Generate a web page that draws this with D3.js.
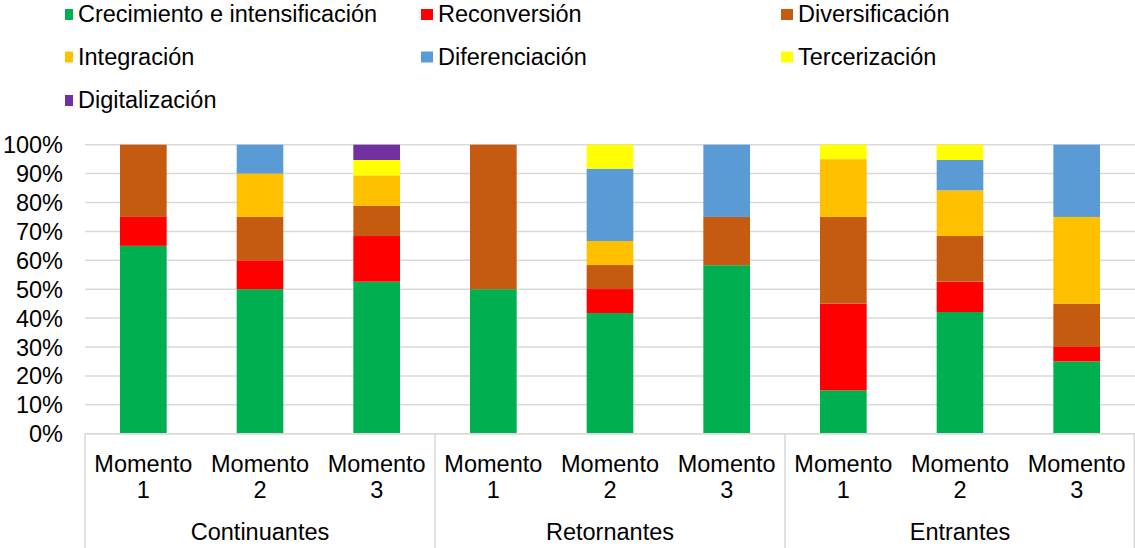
<!DOCTYPE html>
<html>
<head>
<meta charset="utf-8">
<script src="https://cdn.jsdelivr.net/npm/d3@7"></script>
<style>
  html, body { margin: 0; padding: 0; background: #fff; }
  svg { display: block; font-family: "Liberation Sans", Arial, sans-serif; }
</style>
</head>
<body>
<svg id="chart" width="1135" height="548"></svg>
<script>
// Bar categories (moment within each group) and the group each belongs to
const momentos = ["Momento 1", "Momento 2", "Momento 3",
                  "Momento 1", "Momento 2", "Momento 3",
                  "Momento 1", "Momento 2", "Momento 3"];
const grupos = ["Continuantes", "Retornantes", "Entrantes"];

// Strategy series, share (%) per bar
const series = ["Crecimiento e intensificación", "Reconversión", "Diversificación",
                "Integración", "Diferenciación", "Tercerización", "Digitalización"];
const crecimiento     = [65, 50, 52.6, 50, 41.7, 58.3, 15, 42.1, 25];
const reconversion    = [10, 10, 15.8,  0,  8.3,  0,   30, 10.5,  5];
const diversificacion = [25, 15, 10.5, 50,  8.3, 16.7, 30, 15.8, 15];
const integracion     = [ 0, 15, 10.5,  0,  8.3,  0,   20, 15.8, 30];
const diferenciacion  = [ 0, 10,  0,    0, 25,   25,    0, 10.5, 25];
const tercerizacion   = [ 0,  0,  5.3,  0,  8.3,  0,    5,  5.3,  0];
const digitalizacion  = [ 0,  0,  5.3,  0,  0,    0,    0,  0,    0];
const yTicks = [0, 0.1, 0.2, 0.3, 0.4, 0.5, 0.6, 0.7, 0.8, 0.9, 1];

const colors = ["#00B050", "#FF0000", "#C55A11", "#FFC000", "#5B9BD5", "#FFFF00", "#7030A0"];
const valueArrays = [crecimiento, reconversion, diversificacion, integracion,
                     diferenciacion, tercerizacion, digitalizacion];

// One row per bar, keyed by series name
const rows = momentos.map((m, i) => {
  const r = { idx: i };
  series.forEach((s, k) => { r[s] = valueArrays[k][i]; });
  return r;
});

const svg = d3.select("#chart");
const plotLeft = 85, plotRight = 1135, plotTop = 144.7, plotBottom = 433.7;
const fontSize = 23.5;

const x = d3.scaleBand().domain(d3.range(momentos.length)).range([plotLeft, plotRight])
  .paddingInner(0.6).paddingOuter(0.3);
const y = d3.scaleLinear().domain([0, 1]).range([plotBottom, plotTop]);
const color = d3.scaleOrdinal().domain(series).range(colors);

const stacked = d3.stack().keys(series).offset(d3.stackOffsetExpand)(rows);

// Horizontal gridlines
svg.append("g").selectAll("line").data(yTicks).join("line")
  .attr("x1", plotLeft).attr("x2", plotRight)
  .attr("y1", d => y(d)).attr("y2", d => y(d))
  .attr("stroke", "#d9d9d9").attr("stroke-width", 1.5);

// Y axis labels
const yAxis = d3.axisLeft(y).tickValues(yTicks).tickFormat(d3.format(".0%")).tickSize(0).tickPadding(0);
const yg = svg.append("g").attr("transform", `translate(${plotLeft - 22},0)`).call(yAxis);
yg.select(".domain").remove();
yg.selectAll("text").attr("font-size", fontSize).attr("font-family", "Liberation Sans, Arial, sans-serif")
  .attr("fill", "#000").attr("dy", "0.34em");

// Stacked bars
svg.append("g").selectAll("g").data(stacked).join("g")
  .attr("fill", d => color(d.key))
  .selectAll("rect").data(d => d).join("rect")
  .attr("x", d => x(d.data.idx))
  .attr("width", x.bandwidth())
  .attr("y", d => y(d[1]))
  .attr("height", d => Math.max(0, y(d[0]) - y(d[1])));

// Category axis: baseline and group separators
const axisG = svg.append("g");
axisG.append("line").attr("x1", plotLeft).attr("x2", plotRight).attr("y1", plotBottom).attr("y2", plotBottom)
  .attr("stroke", "#d9d9d9").attr("stroke-width", 1.5);
const groupSize = momentos.length / grupos.length;
const step = x.step();
const groupEdges = d3.range(grupos.length + 1).map(g => plotLeft + g * groupSize * step);
axisG.selectAll("line.sep").data(groupEdges).join("line").attr("class", "sep")
  .attr("x1", d => Math.min(d, plotRight - 0.75)).attr("x2", d => Math.min(d, plotRight - 0.75))
  .attr("y1", plotBottom).attr("y2", 548)
  .attr("stroke", "#d9d9d9").attr("stroke-width", 1.5);

// Moment labels (two lines each)
const catLabels = axisG.selectAll("text.cat").data(momentos.map((m, i) => ({ m, i }))).join("text")
  .attr("class", "cat")
  .attr("text-anchor", "middle")
  .attr("font-size", fontSize).attr("fill", "#000");
catLabels.each(function(d) {
  const parts = d.m.split(" ");
  const cx = x(d.i) + x.bandwidth() / 2;
  d3.select(this).append("tspan").attr("x", cx).attr("y", 471.5).text(parts[0]);
  d3.select(this).append("tspan").attr("x", cx).attr("y", 497.5).text(parts[1]);
});

// Group labels
axisG.selectAll("text.grp").data(grupos).join("text").attr("class", "grp")
  .attr("x", (d, g) => (groupEdges[g] + groupEdges[g + 1]) / 2)
  .attr("y", 540)
  .attr("text-anchor", "middle").attr("font-size", fontSize).attr("fill", "#000")
  .text(d => d);

// Legend: three columns
const legendCols = [78, 438, 798];
const legendRows = [22, 64.5, 108];
const legend = svg.append("g").selectAll("g").data(series).join("g")
  .attr("transform", (d, i) => `translate(${legendCols[i % 3]},${legendRows[Math.floor(i / 3)]})`);
legend.append("rect")
  .attr("x", (d, i) => i % 3 === 0 ? -13 : -17)
  .attr("width", (d, i) => i % 3 === 0 ? 8 : 12)
  .attr("y", -13).attr("height", 11)
  .attr("fill", d => color(d));
legend.append("text").attr("x", 0).attr("y", 0)
  .attr("font-size", fontSize).attr("fill", "#000")
  .text(d => d);
</script>
</body>
</html>
